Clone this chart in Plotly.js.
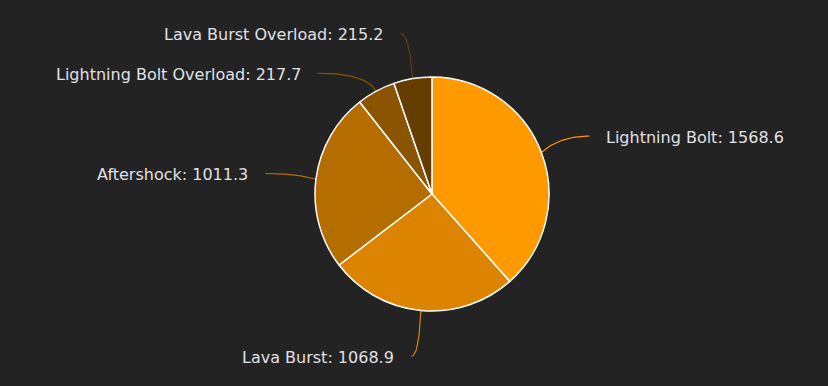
<!DOCTYPE html>
<html>
<head>
<meta charset="utf-8">
<script src="https://cdn.plot.ly/plotly-3.0.1.min.js"></script>
<style>
html,body{margin:0;padding:0;background:#232323;}
#chart{width:828px;height:386px;}
</style>
</head>
<body>
<div id="chart"></div>
<script>
const labels = ["Lightning Bolt", "Lava Burst", "Aftershock", "Lightning Bolt Overload", "Lava Burst Overload"];
const values = [1568.6, 1068.9, 1011.3, 217.7, 215.2];
const colors = ["#ff9900", "#dc8400", "#b56d00", "#8a5400", "#663d00"];

const W = 828, H = 386;
const cx = 432, cy = 194, r = 117;   // pie placement (layout)
const R = 163, gap = 40, pad = 15, ext = 20;

const total = values.reduce((a, b) => a + b, 0);
let cum = 0;
const pts = values.map((v, i) => {
  const a = (cum + v / 2) / total * 2 * Math.PI;
  cum += v;
  const side = Math.sin(a) >= 0 ? 1 : -1;
  return {i, a, side, y: cy - R * Math.cos(a)};
});
[1, -1].forEach(s => {
  const group = pts.filter(p => p.side === s).sort((p, q) => p.y - q.y);
  for (let k = 1; k < group.length; k++) {
    if (group[k].y - group[k - 1].y < gap) group[k].y = group[k - 1].y + gap;
  }
});

const traces = [{
  type: "pie",
  labels: labels,
  values: values,
  sort: false,
  direction: "clockwise",
  rotation: 0,
  marker: {colors: colors, line: {color: "#ffffff", width: 1.5}},
  textinfo: "none",
  hoverinfo: "none",
  showlegend: false,
  domain: {x: [(cx - r) / W, (cx + r) / W], y: [1 - (cy + r) / H, 1 - (cy - r) / H]}
}];

const annotations = [];
pts.forEach(p => {
  const dy = Math.max(-R, Math.min(R, p.y - cy));
  const xe = cx + p.side * (Math.sqrt(R * R - dy * dy) + 5);
  const x0 = cx + r * Math.sin(p.a), y0 = cy - r * Math.cos(p.a);
  const xc = cx + (r + ext) * Math.sin(p.a), yc = p.y;
  const xs = [], ys = [];
  for (let t = 0; t <= 1.0001; t += 0.05) {
    xs.push((1 - t) * (1 - t) * x0 + 2 * (1 - t) * t * xc + t * t * xe);
    ys.push((1 - t) * (1 - t) * y0 + 2 * (1 - t) * t * yc + t * t * p.y);
  }
  traces.push({
    type: "scatter", mode: "lines", x: xs, y: ys,
    line: {color: colors[p.i], width: 1.2},
    hoverinfo: "skip", showlegend: false
  });
  annotations.push({
    xref: "x", yref: "y",
    x: xe + p.side * pad, y: p.y + 1,
    xanchor: p.side > 0 ? "left" : "right", yanchor: "middle",
    text: labels[p.i] + ": " + values[p.i].toFixed(1),
    showarrow: false,
    font: {family: "DejaVu Sans, sans-serif", size: 16, color: "#e0e0e3"}
  });
});

const layout = {
  width: W, height: H,
  margin: {l: 0, r: 0, t: 0, b: 0},
  paper_bgcolor: "#232323",
  plot_bgcolor: "rgba(0,0,0,0)",
  xaxis: {range: [0, W], visible: false, fixedrange: true},
  yaxis: {range: [H, 0], visible: false, fixedrange: true},
  annotations: annotations,
  showlegend: false
};

Plotly.newPlot("chart", traces, layout, {displayModeBar: false, staticPlot: true});
</script>
</body>
</html>
